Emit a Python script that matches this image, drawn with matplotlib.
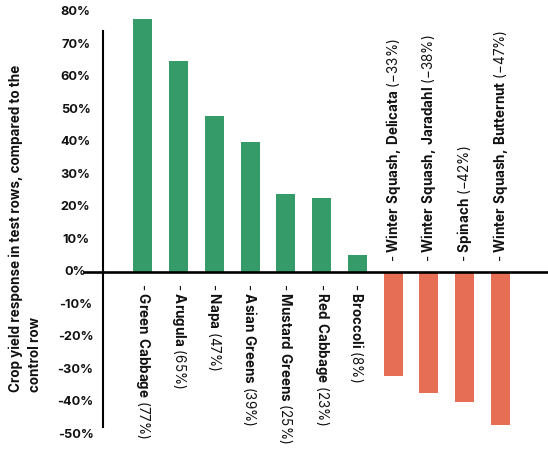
import matplotlib
matplotlib.use("Agg")
import matplotlib.pyplot as plt
import matplotlib.transforms as mtransforms

# crops and their yield response vs control row (%)
crops = ["Green Cabbage", "Arugula", "Napa", "Asian Greens", "Mustard Greens",
         "Red Cabbage", "Broccoli", "Winter Squash, Delicata",
         "Winter Squash, Jaradahl", "Spinach", "Winter Squash, Butternut"]
bar_values = [78, 65, 48, 40, 24, 23, 5.5, -32, -37, -40, -47]
label_pcts = ["77%", "65%", "47%", "39%", "25%", "23%", "8%",
              "\u221233%", "\u221238%", "\u221242%", "\u221247%"]
y_ticks = [80, 70, 60, 50, 40, 30, 20, 10, 0, -10, -20, -30, -40, -50]
y_ticklabels = [f"{t}%" for t in y_ticks]

GREEN = "#359b69"
RED = "#e66e55"
FONT = "Inter"

plt.rcParams["font.family"] = [FONT, "DejaVu Sans"]
plt.rcParams["mathtext.fontset"] = "custom"
plt.rcParams["mathtext.rm"] = FONT
plt.rcParams["mathtext.bf"] = FONT + ":bold"

W, H = 548, 459
fig = plt.figure(figsize=(W / 100, H / 100), dpi=100)
# axes: left edge = start of zero line, y from -50 to 80
ax = fig.add_axes([84 / W, (H - 435) / H, (W - 84) / W, (435 - 12.3) / H])
ax.set_ylim(-50, 80)
ax.set_xlim(-1.644, 11.328)

x = list(range(len(crops)))
colors = [GREEN if v >= 0 else RED for v in bar_values]
ax.bar(x, bar_values, width=0.53, color=colors, zorder=2)

# zero line and left axis line
ax.axhline(0, color="black", lw=1.9, zorder=3)
for s in ["top", "right", "bottom"]:
    ax.spines[s].set_visible(False)
ax.spines["left"].set_position(("data", -1.12))
ax.spines["left"].set_bounds(-47.4, 74.2)
ax.spines["left"].set_linewidth(1.5)
ax.set_xticks([])
ax.set_yticks([])

# y tick labels, centred left of the axis line
lab_tr = mtransforms.blended_transform_factory(ax.transAxes, ax.transData)
for t, lbl in zip(y_ticks, y_ticklabels):
    ax.text(-0.0183, t, lbl, transform=lab_tr, ha="center", va="center",
            fontsize=9.2, fontweight="bold", color="#111111")

# crop labels: bold name + regular percentage
for xi, name, pct, v in zip(x, crops, label_pcts, bar_values):
    bold = name.replace(", ", r",\,").replace(" ", r"\ ")
    txt = f"- $\\mathbf{{{bold}}}$ ({pct})"
    if v >= 0:
        ax.text(xi, -3.1, txt, rotation=270, ha="center", va="top",
                fontsize=9.7, color="#111111")
    else:
        ax.text(xi, 3.1, txt, rotation=90, ha="center", va="bottom",
                fontsize=9.7, color="#111111")

fig.text(25.5 / W, (H - 228.5) / H,
         "Crop yield response in test rows, compared to the\ncontrol row",
         rotation=90, ha="center", va="center", multialignment="left",
         fontsize=9.7, fontweight="bold", linespacing=1.5, color="#111111")

fig.savefig("out.png", dpi=100)
